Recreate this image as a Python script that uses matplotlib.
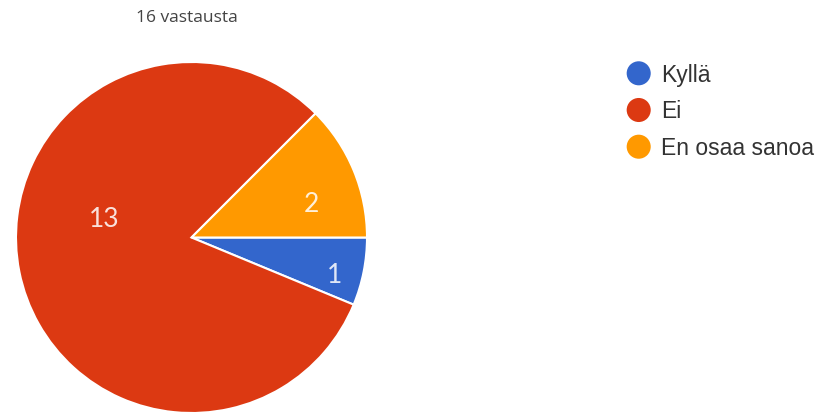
import matplotlib.pyplot as plt
import numpy as np

# Survey answers
labels = ['Kyllä', 'Ei', 'En osaa sanoa']
counts = [1, 13, 2]
colors = ['#3366CC', '#DC3912', '#FF9900']
total_text = '16 vastausta'

W, H = 822, 412
fig = plt.figure(figsize=(W / 100, H / 100), dpi=100)
ax = fig.add_axes([0, 0, 1, 1])

# pie laid out in pixel units
cx, cy, r = 191.5, H - 237.5, 175.5
wedges, _ = ax.pie(counts, colors=colors, startangle=0, counterclock=False,
                   center=(cx, cy), radius=r,
                   wedgeprops=dict(edgecolor='white', linewidth=1.5))
ax.set_xlim(0, W)
ax.set_ylim(0, H)
ax.set_aspect('equal')
ax.axis('off')

# value labels inside the slices (angle in degrees, fraction of radius)
label_pos = [(-14.0, 0.84), (166.5, 0.51), (16.5, 0.71)]
for n, (ang, frac) in zip(counts, label_pos):
    a = np.deg2rad(ang)
    ax.text(cx + frac * r * np.cos(a), cy + frac * r * np.sin(a), str(n),
            color='white', alpha=0.85, fontsize=19, family='Lato',
            ha='center', va='center_baseline')

ax.text(187, H - 18, total_text, color='#444444', fontsize=12.5,
        family='Open Sans', ha='center', va='center')

# legend
ys = [73.3, 110, 146.7]
fs = 16.5
cap = 0.716 * fs * 100 / 72
for lab, col, y in zip(labels, colors, ys):
    ax.scatter([638.7], [H - y], s=300, color=col, edgecolor='none')
    ax.text(661, H - y - cap / 2, lab, color='#333333', fontsize=fs,
            family='Liberation Sans', ha='left', va='baseline')

fig.savefig('out.png', dpi=100)
